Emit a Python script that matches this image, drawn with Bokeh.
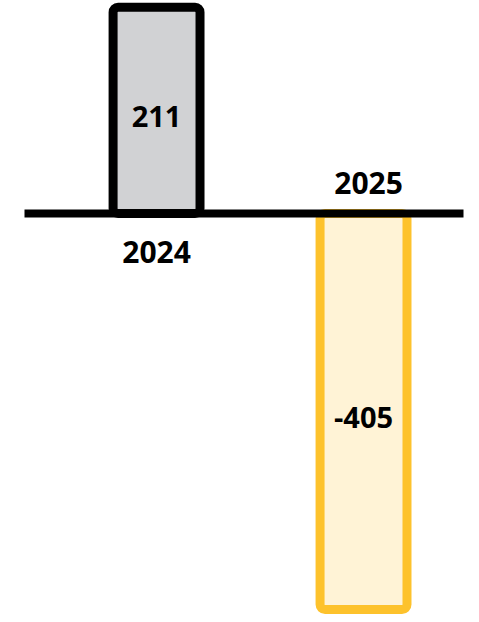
from bokeh.plotting import figure
from bokeh.models import ColumnDataSource, Range1d, Span
from bokeh.core.properties import value
from bokeh.embed import file_html
from bokeh.resources import INLINE

categories = ["2024", "2025"]
values = [211, -405]
fill_colors = ["#d1d2d4", "#fff3d6"]
line_colors = ["#000000", "#fdc22c"]

idx = list(range(len(categories)))
labels = [str(v) for v in values]
half = [v / 2 for v in values]

src = ColumnDataSource(dict(x=idx, top=values, fill=fill_colors, line=line_colors,
                            label=labels, mid=half, cat=categories))

p = figure(width=471, height=622, output_backend="svg", toolbar_location=None,
           x_range=Range1d(-0.638, 1.483), y_range=Range1d(-418.2, 217.8),
           min_border_left=24, min_border_right=8, min_border_top=0, min_border_bottom=0)
p.axis.visible = False
p.grid.visible = False
p.outline_line_color = None
p.background_fill_color = "white"
p.border_fill_color = "white"

p.vbar(x="x", top="top", bottom=0, width=0.42, source=src,
       fill_color="fill", line_color="line", line_width=9, border_radius=5,
       line_join="round")

p.add_layout(Span(location=0, dimension="width", line_color="black",
                  line_width=8, line_cap="round"))

p.text(x="x", y="mid", text="label", source=src, text_align="center",
       text_baseline="middle", text_font=value("Open Sans"), text_font_style="bold",
       text_font_size="29px", text_color="black", y_offset=6)

pos = [i for i, v in enumerate(values) if v >= 0]
neg = [i for i, v in enumerate(values) if v < 0]
src_pos = ColumnDataSource(dict(x=[idx[i] for i in pos], cat=[categories[i] for i in pos], y=[0] * len(pos)))
src_neg = ColumnDataSource(dict(x=[idx[i] for i in neg], cat=[categories[i] for i in neg], y=[0] * len(neg)))

p.text(x="x", y="y", text="cat", source=src_pos, text_align="center",
       text_baseline="middle", text_font=value("Open Sans"), text_font_style="bold",
       text_font_size="30px", text_color="black", y_offset=38)
p.text(x="x", y="y", text="cat", source=src_neg, text_align="center",
       text_baseline="middle", text_font=value("Open Sans"), text_font_style="bold",
       text_font_size="30px", text_color="black", x_offset=5, y_offset=-31)

open("out.html", "w").write(file_html(p, INLINE))
